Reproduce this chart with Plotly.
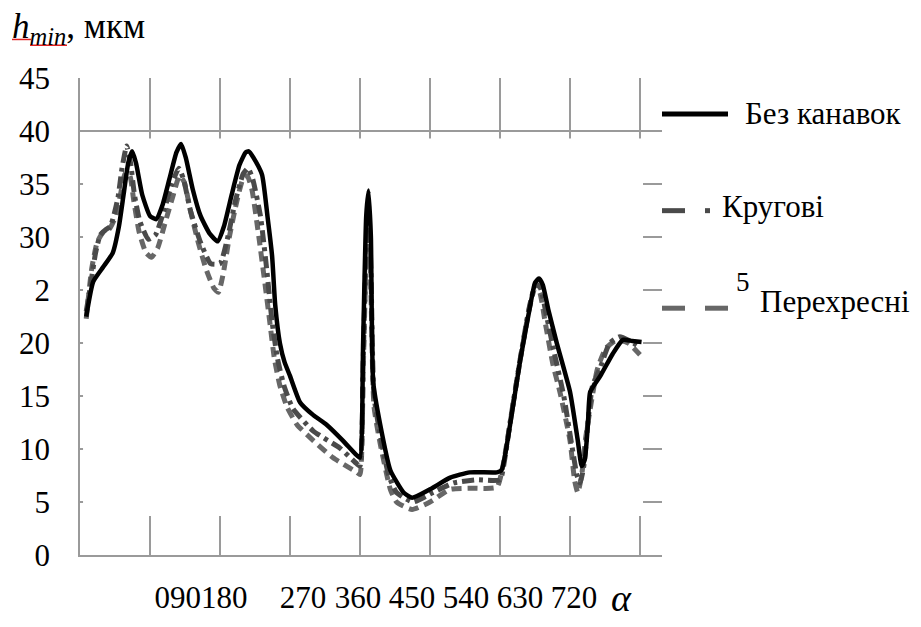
import plotly.graph_objects as go

# ---------------- data ----------------
black_x = [8, 17, 30, 42, 50, 56, 62, 67, 72, 80, 90, 98, 106, 115, 124, 130, 136, 145, 155, 167, 177,
           185, 195, 205, 213, 217, 223, 234, 241, 247, 251, 257, 263, 270, 283, 300, 317, 338, 356, 360,
           364, 368, 371, 374, 377, 386, 399, 416, 427, 450, 476, 501, 536, 542, 553, 566, 579, 585, 590,
           595, 602, 613, 630, 640, 645, 649, 653, 656, 669, 685, 698, 710, 722]
black_y = [22.5, 25.8, 27.2, 28.5, 31, 34, 37, 38.1, 37, 34, 32, 31.7, 33, 35.5, 38, 38.8, 37.5, 34.5, 32, 30.3, 29.6,
           31, 34, 36.8, 38, 38.1, 37.5, 35.9, 32, 28.2, 23.6, 20.0, 18.2, 16.9, 14.4, 13.2, 12.3, 10.8, 9.4, 9.2,
           20, 32, 34.4, 30, 16.3, 12.3, 8.0, 5.9, 5.4, 6.2, 7.3, 7.8, 7.8, 8.0, 12.3, 18.4, 23.6, 25.7, 26.1,
           25.5, 23.2, 20.0, 15.4, 10.8, 8.4, 9, 12.3, 15.4, 16.9, 19.0, 20.3, 20.2, 20.1]

krug_x = [8, 13, 20, 26, 33, 39, 45, 49, 54, 60, 65, 70, 77, 88, 97, 108, 118, 127, 133, 142, 155, 168, 180,
          190, 200, 210, 216, 222, 232, 240, 247, 254, 263, 274, 300, 334, 356, 360, 364, 368, 371, 374, 378,
          386, 397, 407, 428, 454, 480, 510, 540, 546, 553, 566, 578, 586, 592, 600, 610, 622, 632, 639, 643,
          648, 653, 659, 668, 681, 694, 707, 720]
krug_y = [23, 25.2, 28.5, 30.2, 30.7, 31, 32.5, 33.8, 36.5, 38.6, 37, 34, 31.5, 29.8, 30.2, 32.5, 35, 36.5, 35.5, 32.5, 29.5, 27.5, 27.5,
          30, 33.5, 36, 36.5, 35.5, 32, 27, 22, 18.5, 15.8, 13.8, 11.7, 10.1, 8.6, 8.4, 18, 29, 32.5, 27, 15,
          11.3, 7.5, 5.9, 5.0, 5.9, 6.8, 7.1, 7.1, 9, 12.5, 18.5, 23.5, 25.6, 25.2, 22.5, 19, 15, 10.5, 7.5, 6.8,
          8.5, 12.5, 16, 17.5, 20.0, 20.6, 20.2, 19.6]

pere_x = [8, 15, 22, 30, 38, 46, 52, 58, 64, 69, 76, 85, 92, 100, 110, 120, 128, 134, 142, 152, 162, 172, 178,
          184, 192, 202, 210, 215, 221, 230, 238, 244, 250, 257, 266, 279, 300, 325, 356, 360, 364, 368, 371,
          374, 378, 386, 399, 407, 427, 450, 476, 505, 536, 544, 552, 565, 577, 585, 591, 598, 608, 617, 630,
          636, 640, 645, 650, 656, 665, 676, 690, 705, 720]
pere_y = [22.3, 27, 29.5, 30.5, 30.8, 32, 34, 36, 35.8, 33.5, 30.5, 28.5, 28.1, 29, 31.5, 34, 35.8, 35.2, 32.5, 29.5, 27, 25.2, 24.8,
          26.5, 30, 33.5, 35.6, 35.8, 34.5, 30, 25.5, 22, 18.5, 16, 14.0, 12.3, 10.8, 9.2, 7.8, 7.6, 17, 28, 31,
          25, 14, 10.5, 6.2, 5.0, 4.3, 5.0, 6.2, 6.3, 6.4, 8.5, 12, 18, 23, 25.2, 24.8, 22, 18, 15.4, 10.8,
          7, 5.9, 7.5, 11, 13.8, 17.5, 19.5, 20.3, 20.0, 18.9]

series_names = ["Без канавок", "Кругові", "Перехресні"]
y_tick_vals = [0, 5, 10, 15, 20, 25, 30, 35, 40, 45]
y_tick_text = ["0", "5", "10", "15", "20", "2", "30", "35", "40", "45"]
x_tick_text = ["090180", "270", "360", "450", "540", "630", "720"]
x_tick_pos = [155.6, 286.7, 357.4, 426.9, 496.3, 565.7, 635.1]
y_title = "<i>h</i><sub><i>min</i></sub>, мкм"
x_title = "<i>α</i>"
stray_text = "5"

# ---------------- layout helpers (pixel -> paper) ----------------
W, H = 921, 627
L, R, T, B = 80, 662, 78, 567
def px(x):
    return (x - L) / (R - L)
def py(y):
    return (B - y) / (B - T)

FONT = "Times New Roman, Tinos, Liberation Serif, DejaVu Serif, serif"
GRID = "#9a9a9a"
C_BLACK = "#000000"
C_KRUG = "#4a4a4a"
C_PERE = "#676767"

fig = go.Figure()
fig.add_trace(go.Scatter(x=pere_x, y=pere_y, mode="lines", name=series_names[2],
                         line=dict(color=C_PERE, width=5, dash="10px,6px", shape="spline", smoothing=0.5)))
fig.add_trace(go.Scatter(x=krug_x, y=krug_y, mode="lines", name=series_names[1],
                         line=dict(color=C_KRUG, width=5, dash="12px,5px,4px,5px", shape="spline", smoothing=0.5)))
fig.add_trace(go.Scatter(x=black_x, y=black_y, mode="lines", name=series_names[0],
                         line=dict(color=C_BLACK, width=4.5, shape="spline", smoothing=0.5)))

shapes = []
# white box hiding the interior of the grid (as in the scan)
shapes.append(dict(type="rect", xref="x", yref="y", x0=3.9, x1=723.9, y0=3.68, y1=39.3,
                   fillcolor="white", line=dict(width=0), layer="between"))
# legend samples
shapes.append(dict(type="line", xref="paper", yref="paper", x0=px(662), x1=px(728), y0=py(115), y1=py(115),
                   line=dict(color=C_BLACK, width=5)))
shapes.append(dict(type="line", xref="paper", yref="paper", x0=px(662), x1=px(685), y0=py(214), y1=py(214),
                   line=dict(color=C_KRUG, width=5)))
shapes.append(dict(type="line", xref="paper", yref="paper", x0=px(705), x1=px(710), y0=py(214), y1=py(214),
                   line=dict(color=C_KRUG, width=5)))
shapes.append(dict(type="line", xref="paper", yref="paper", x0=px(662), x1=px(685), y0=py(314), y1=py(314),
                   line=dict(color=C_PERE, width=5)))
shapes.append(dict(type="line", xref="paper", yref="paper", x0=px(705), x1=px(728), y0=py(314), y1=py(314),
                   line=dict(color=C_PERE, width=5)))
# red spell-check underlines under the title
shapes.append(dict(type="line", xref="paper", yref="paper", x0=px(12), x1=px(31), y0=py(38.5), y1=py(38.5),
                   line=dict(color="#e02020", width=1.5)))
shapes.append(dict(type="line", xref="paper", yref="paper", x0=px(30), x1=px(67), y0=py(44.5), y1=py(44.5),
                   line=dict(color="#e02020", width=1.5)))

annotations = [
    dict(text=series_names[0], x=px(743), y=py(114), xref="paper", yref="paper", xanchor="left", yanchor="middle",
         showarrow=False, font=dict(family=FONT, size=31, color="black")),
    dict(text=series_names[1], x=px(720), y=py(210), xref="paper", yref="paper", xanchor="left", yanchor="middle",
         showarrow=False, font=dict(family=FONT, size=31, color="black")),
    dict(text=series_names[2], x=px(758), y=py(307), xref="paper", yref="paper", xanchor="left", yanchor="middle",
         showarrow=False, font=dict(family=FONT, size=31, color="black")),
    dict(text=stray_text, x=px(743), y=py(287), xref="paper", yref="paper", xanchor="center", yanchor="middle",
         showarrow=False, font=dict(family=FONT, size=27, color="black")),
    dict(text=y_title, x=px(10), y=py(27), xref="paper", yref="paper", xanchor="left", yanchor="middle",
         showarrow=False, font=dict(family=FONT, size=35, color="black")),
    dict(text=x_title, x=px(621), y=py(611), xref="paper", yref="paper", xanchor="center", yanchor="middle",
         showarrow=False, font=dict(family=FONT, size=38, color="black")),
]

fig.update_layout(
    width=W, height=H,
    margin=dict(l=L, r=W - R, t=T, b=H - B, pad=0),
    paper_bgcolor="white", plot_bgcolor="white",
    showlegend=False,
    font=dict(family=FONT),
    shapes=shapes, annotations=annotations,
    xaxis=dict(range=[0, (R - L) * 90 / 70], showgrid=False, zeroline=False,
               showline=True, linecolor=GRID, linewidth=1.5,
               tickmode="array", tickvals=x_tick_pos, ticktext=x_tick_text,
               ticks="outside", ticklen=14, tickcolor="rgba(0,0,0,0)",
               tickfont=dict(family=FONT, size=31, color="black"),
               minor=dict(tickmode="linear", tick0=0, dtick=90, showgrid=True,
                          gridcolor=GRID, gridwidth=1.5, ticks="")),
    yaxis=dict(range=[0, 45.02], showgrid=False, zeroline=False,
               showline=True, linecolor=GRID, linewidth=1.5,
               tickmode="array", tickvals=y_tick_vals, ticktext=y_tick_text,
               ticks="outside", ticklen=22, tickcolor="rgba(0,0,0,0)",
               tickfont=dict(family=FONT, size=31, color="black"),
               minor=dict(tickmode="linear", tick0=0, dtick=5, showgrid=True,
                          gridcolor=GRID, gridwidth=1.5, ticks="")),
)

fig.write_html("out.html")
